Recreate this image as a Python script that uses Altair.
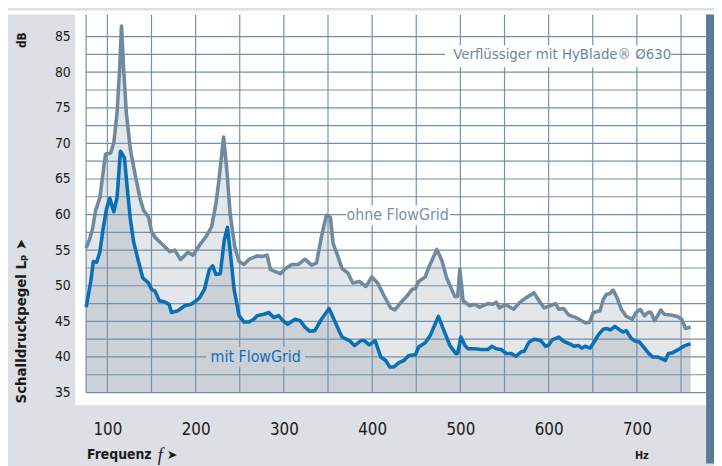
import altair as alt
import pandas as pd

# ---------------- data ----------------
ohne_f = [76, 80, 83, 86.8, 91.6, 94.2, 98, 103.6, 107.3, 111, 114, 116, 118.5, 121.5, 126,
          131.6, 137.2, 141, 146.5, 150.2, 154, 163.3, 170.8, 176.4, 183, 191.3, 196.9, 204.4,
          211.8, 218.2, 223, 226.8, 231.7, 235.4, 239.1, 244.3, 249.2, 254.8, 260.4, 269.7,
          275.4, 281, 284.7, 290.3, 295.9, 301.5, 309, 316.5, 323.9, 331.4, 337, 342.6, 348.2,
          352.7, 355.7, 361.3, 366, 372.5, 378.1, 385.5, 393, 399.7, 406.1, 413.5, 421, 425.8,
          432.2, 439.7, 445.3, 449, 452.7, 460.2, 463.9, 473.3, 478.9, 484.5, 489.4, 493.8,
          496.9, 499.4, 503.1, 510.6, 516.2, 521.8, 531.1, 536.8, 540.6, 544.3, 549.9, 553.6,
          560.3, 566.7, 574.2, 583.5, 589.1, 594.7, 602.2, 607.8, 611.5, 617.1, 622.7, 630.2,
          635.8, 641.4, 646.2, 650.7, 658.2, 661.9, 665.6, 669.4, 673.1, 677.6, 682.4, 688,
          694.7, 699.2, 703.7, 708.6, 713.4, 716, 719.8, 723.5, 727.2, 731, 738.4, 745.9,
          750.7, 755.2, 760.8]
ohne_db = [55.3, 56.6, 57.9, 60.6, 62.4, 65.0, 68.5, 68.6, 70.1, 74.3, 80.7, 86.5, 80.3, 74.3, 69.2,
           65.5, 62.2, 60.6, 59.7, 57.6, 56.8, 55.7, 54.8, 55.0, 53.7, 54.7, 54.3, 55.7,
           56.9, 58.3, 61.5, 65.2, 70.9, 66.2, 60.1, 55.5, 53.4, 53.0, 53.7, 54.2,
           54.1, 54.3, 52.3, 52.0, 51.7, 52.4, 53.0, 53.0, 53.75, 52.9, 53.2, 56.9, 59.9,
           59.6, 56.0, 54.1, 52.4, 51.8, 50.4, 50.6, 49.9, 51.25, 50.4, 48.6, 46.9, 46.6,
           47.6, 48.6, 49.5, 49.6, 50.6, 51.25, 52.5, 55.1, 53.6, 51.1, 49.7, 48.5,
           48.5, 52.3, 47.9, 47.2, 47.4, 47.0, 47.5, 47.4, 47.7, 46.9, 47.3, 47.2,
           46.7, 47.6, 48.3, 49.0, 47.9, 46.9, 47.2, 47.5, 46.7, 46.8, 45.9, 45.55,
           45.2, 44.8, 44.85, 46.25, 46.5, 48.1, 48.8, 48.9, 49.4, 48.3, 46.7, 45.7,
           45.3, 46.25, 46.7, 45.8, 46.3, 46.25, 45.1, 45.8, 46.6, 46.0, 45.9, 45.7,
           45.3, 44.0, 44.2]

mit_f = [76, 81.2, 84.1, 87.9, 91.6, 95.3, 99.1, 102.8, 107.3, 111, 114.8, 119.3, 123, 126,
         129.7, 135.3, 140.1, 146.5, 150.2, 154, 158.8, 163.3, 170, 172.6, 180.1, 187.6, 195,
         200.6, 204.4, 210, 215.6, 219.3, 223, 228, 232.4, 236.1, 239.8, 243.6, 249.2, 254.8,
         260.4, 266, 269.7, 277.3, 282.9, 288.5, 294.1, 298.9, 304.1, 312.7, 318.3, 323.9,
         329.5, 335.1, 342.6, 351.2, 357.5, 363.1, 366, 370.6, 374.3, 379.9, 387.4, 391.1,
         396.7, 403.4, 409.8, 415.4, 419.9, 424.7, 430.3, 435.9, 441.5, 449, 452.7, 460.2,
         465.8, 475.1, 480.7, 488.2, 494.6, 496.9, 500.6, 505.1, 508.7, 516.2, 523.8, 531.1,
         535.6, 540.6, 546.2, 551.8, 557.3, 562.9, 568.6, 572.3, 577.9, 583.5, 591, 596.6,
         600.3, 604, 611.5, 617.1, 624.6, 629.1, 633.9, 637.6, 641.4, 647, 651.5, 656.3,
         661.9, 665.6, 670.1, 675, 680.6, 684.3, 688, 693.6, 698.5, 703, 708.6, 713.4,
         717.9, 723.5, 727.2, 732.1, 735.8, 740.3, 744.8, 748.5, 754.5, 760.8]
mit_db = [47.0, 50.6, 53.4, 53.3, 54.8, 58.1, 60.8, 62.3, 60.4, 62.4, 68.9, 68.0, 63.1, 59.4,
          56.2, 53.4, 51.1, 50.4, 49.5, 49.25, 47.9, 47.8, 47.4, 46.25, 46.5, 47.2, 47.4,
          47.9, 48.3, 49.5, 52.3, 52.8, 51.6, 51.7, 56.4, 58.2, 54.1, 49.5, 45.8, 44.9,
          44.9, 45.3, 45.8, 46.0, 46.25, 45.55, 45.8, 45.1, 44.6, 45.3, 45.1, 44.2,
          43.6, 43.7, 45.3, 46.8, 45.1, 43.5, 42.8, 42.5, 42.3, 41.6, 42.3, 42.3,
          41.7, 42.3, 40.0, 39.5, 38.6, 38.6, 39.2, 39.5, 40.2, 40.3, 41.4, 42.0,
          43.0, 45.7, 43.9, 41.6, 40.5, 40.5, 42.8, 41.6, 41.15, 41.15, 41.05, 41.05,
          41.5, 41.15, 41.05, 40.5, 40.5, 40.1, 40.7, 40.8, 42.1, 42.5, 42.3, 41.5,
          41.7, 42.4, 42.8, 42.2, 41.8, 41.5, 41.6, 41.25, 41.5, 41.25, 42.1, 43.1,
          43.9, 44.0, 43.8, 44.3, 43.8, 43.5, 43.7, 42.6, 42.2, 42.1, 41.25, 40.5,
          40.0, 40.0, 39.8, 39.5, 40.5, 40.6, 40.9, 41.15, 41.6, 41.85]

x_ticks = [100, 200, 300, 400, 500, 600, 700]
y_ticks = [35, 40, 45, 50, 55, 60, 65, 70, 75, 80, 85]
x_grid = [75.9, 100, 150, 200, 250, 300, 350, 400, 450, 500, 550, 600, 650, 700, 750]
y_grid = [35, 37.5, 40, 42.5, 45, 47.5, 50, 52.5, 55, 57.5, 60, 62.5, 65, 67.5, 70, 72.5,
          75, 77.5, 80, 82.5, 85]

X_DOM = [63.6, 778.4]
Y_DOM = [33.24, 88.1]
BASE = 35

# ---------------- styling ----------------
FONT = "Liberation Sans Narrow, Arial Narrow, DejaVu Sans Condensed, sans-serif"
GREY_LINE = "#6f8aa0"
BLUE_LINE = "#0b6fb6"
LIGHT_FILL = "#e4e7ea"
DARK_FILL = "#cbd1d7"
GRID = "#7490a8"
PANEL = "#dcdfe3"
BAR = "#5b7a93"
LEG_GREY = "#6b879d"

xs = alt.Scale(domain=X_DOM, nice=False, zero=False)
ys = alt.Scale(domain=Y_DOM, nice=False, zero=False)

x_axis = alt.Axis(values=x_ticks, title=None, grid=False, domain=False, ticks=False, tickSize=0,
                  labelFont=FONT, labelFontSize=17, labelColor="#1a1a1a", labelPadding=25,
                  labelBaseline="middle", format="d")
y_axis = alt.Axis(values=y_ticks, title=None, grid=False, domain=False, ticks=False, tickSize=0,
                  labelFont=FONT, labelFontSize=14, labelColor="#1a1a1a", labelPadding=5,
                  format="d")


def X(field):
    return alt.X(field, scale=xs, axis=x_axis)


def Y(field):
    return alt.Y(field, scale=ys, axis=y_axis)


ohne = pd.DataFrame({"f": ohne_f, "db": ohne_db, "base": BASE})
mit = pd.DataFrame({"f": mit_f, "db": mit_db, "base": BASE})

area_ohne = alt.Chart(ohne).mark_area(color=LIGHT_FILL).encode(
    x=X("f:Q"), y=Y("db:Q"), y2="base:Q")
area_mit = alt.Chart(mit).mark_area(color=DARK_FILL).encode(
    x=X("f:Q"), y=Y("db:Q"), y2="base:Q")

vgrid = pd.DataFrame({"x": x_grid, "y0": BASE, "y1": Y_DOM[1]})
hgrid = pd.DataFrame({"y": y_grid, "x0": x_grid[0], "x1": X_DOM[1]})
vrules = alt.Chart(vgrid).mark_rule(color=GRID, strokeWidth=1.2).encode(
    x=X("x:Q"), y=Y("y0:Q"), y2="y1:Q")
hrules = alt.Chart(hgrid).mark_rule(color=GRID, strokeWidth=1.2).encode(
    y=Y("y:Q"), x=X("x0:Q"), x2="x1:Q")

# label boxes that interrupt the grid
boxes = pd.DataFrame({
    "f0": [482.6, 370.6, 211.8],
    "f1": [738.4, 488.2, 323.9],
    "d0": [80.7, 58.5, 38.65],
    "d1": [83.8, 61.3, 41.4],
    "c": ["#ffffff", "#ffffff", DARK_FILL],
})
box_layer = alt.Chart(boxes).mark_rect().encode(
    x=X("f0:Q"), x2="f1:Q", y=Y("d0:Q"), y2="d1:Q",
    color=alt.Color("c:N", scale=None))

line_ohne = alt.Chart(ohne).mark_line(color=GREY_LINE, strokeWidth=3.6, strokeJoin="round").encode(
    x=X("f:Q"), y=Y("db:Q"))
line_mit = alt.Chart(mit).mark_line(color=BLUE_LINE, strokeWidth=3.6, strokeJoin="round").encode(
    x=X("f:Q"), y=Y("db:Q"))

# in-plot labels
labels = pd.DataFrame({
    "f": [491.9, 428.9, 268.1],
    "d": [82.5, 60, 40],
    "t": ["Verflüssiger mit HyBlade® Ø630", "ohne FlowGrid", "mit FlowGrid"],
    "c": [LEG_GREY, "#7891a5", "#0f6eb4"],
})
lab_left = alt.Chart(labels.iloc[[0]]).mark_text(font=FONT, fontSize=15, align="left",
                                                  baseline="middle").encode(
    x=X("f:Q"), y=Y("d:Q"), text="t:N", color=alt.Color("c:N", scale=None))
lab_center = alt.Chart(labels.iloc[[1, 2]]).mark_text(font=FONT, fontSize=16, align="center",
                                                       baseline="middle").encode(
    x=X("f:Q"), y=Y("d:Q"), text="t:N", color=alt.Color("c:N", scale=None))

one = pd.DataFrame({"k": [0]})


def txt(text, x, y, size, weight="normal", angle=0, align="center", font=FONT, style="normal",
        color="#1a1a1a"):
    return alt.Chart(one).mark_text(text=text, font=font, fontSize=size, fontWeight=weight,
                                    angle=angle, align=align, baseline="middle", color=color,
                                    fontStyle=style).encode(x=alt.value(x), y=alt.value(y))


# axis titles and units (pixel positions relative to plot area)
t_db = txt("dB", -54, 26, 12, "bold", angle=270)
t_ylab = txt("Schalldruckpegel Lₚ ➤", -55, 310, 15, "bold", angle=270)
t_freq = txt("Frequenz", 12, 446, 14, "bold", align="left")
t_f = txt("f", 86, 447, 18, "normal", font="Liberation Serif, DejaVu Serif, serif", style="italic")
t_farr = txt("➤", 98, 446, 13, "normal", font="DejaVu Sans")
t_hz = txt("Hz", 573, 447, 11, "bold")

# decoration: white strip above the panel, dark bar on the right
white_top = alt.Chart(one).mark_rect(color="#ffffff").encode(
    x=alt.value(-68), x2=alt.value(646), y=alt.value(-4), y2=alt.value(0))
dark_bar = alt.Chart(one).mark_rect(color=BAR).encode(
    x=alt.value(638), x2=alt.value(646), y=alt.value(0), y2=alt.value(454))

chart = alt.layer(
    area_ohne, area_mit, vrules, hrules, box_layer, line_ohne, line_mit,
    lab_left, lab_center,
    t_db, t_ylab, t_freq, t_f, t_farr, t_hz,
    white_top, dark_bar,
).properties(
    width=638, height=395,
    autosize=alt.AutoSizeParams(type="none"),
    padding={"left": 68, "top": 4, "right": 8, "bottom": 59},
    background=PANEL,
).configure_view(fill="#ffffff", strokeWidth=0)

chart.save("out.html", embed_options={"renderer": "svg", "actions": False})
